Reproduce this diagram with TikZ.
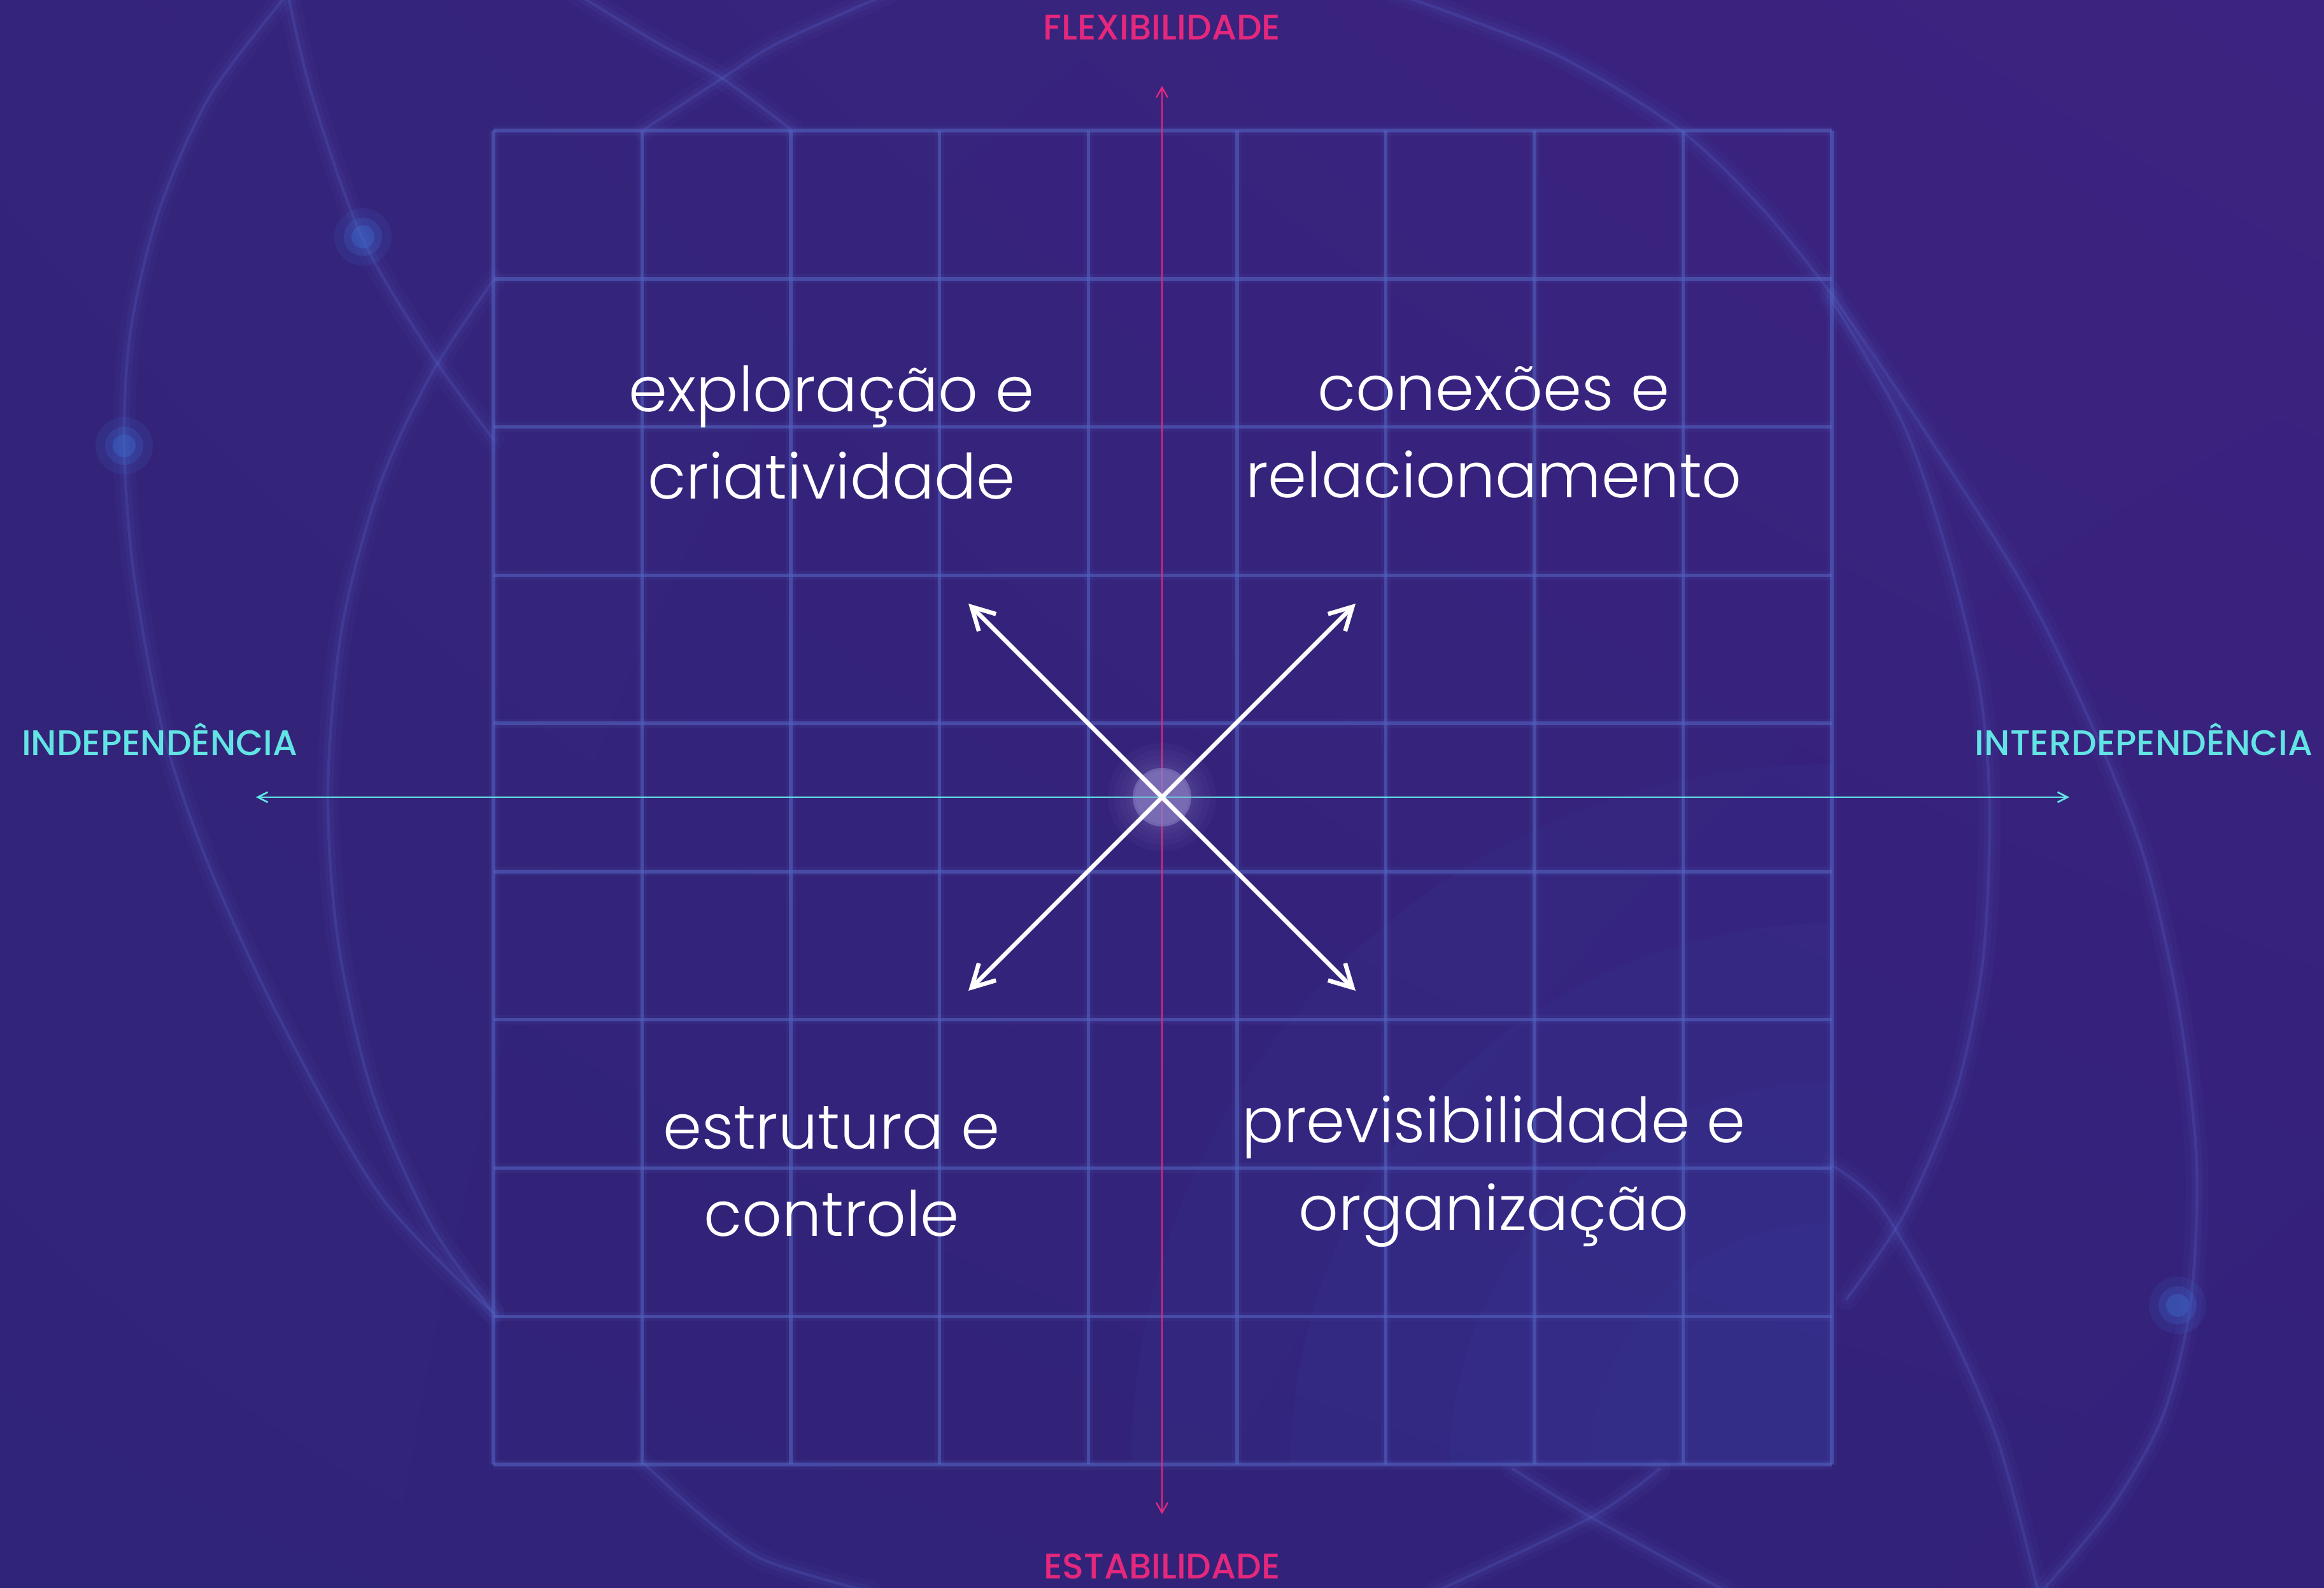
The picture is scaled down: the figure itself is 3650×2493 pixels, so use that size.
\documentclass[tikz,border=0pt]{standalone}
\usepackage{fontspec}
\setmainfont{Poppins}
\newfontfamily\popmed{Poppins Medium}
\newfontfamily\poplight{Poppins Light}
\usetikzlibrary{arrows.meta,shadings}
\definecolor{bgUL}{HTML}{34247A}
\definecolor{bgUR}{HTML}{3C2381}
\definecolor{bgLL}{HTML}{302478}
\definecolor{bgLR}{HTML}{33217A}
\definecolor{gridc}{HTML}{5262BE}
\definecolor{arcc}{HTML}{5F72D6}
\definecolor{dotc}{HTML}{3F78DC}
\definecolor{tintc}{HTML}{3A55B8}
\definecolor{pinkc}{HTML}{E5287C}
\definecolor{cyanc}{HTML}{62E4E4}
\definecolor{glowc}{HTML}{8B80C4}
\tikzset{
  gridline/.style={draw=gridc, line width=1.1pt, opacity=0.6},
  gridhalo/.style={draw=gridc, line width=3pt, opacity=0.1},
  haloA/.style={draw=arcc, line width=7pt, opacity=0.05, line cap=round},
  haloB/.style={draw=arcc, line width=3.5pt, opacity=0.08, line cap=round},
  arccore/.style={draw=arcc, line width=0.9pt, opacity=0.2, line cap=round},
  pinkaxis/.style={draw=pinkc, line width=0.45pt,
    arrows={Straight Barb[length=3.2pt,width=3.6pt]-Straight Barb[length=3.2pt,width=3.6pt]}},
  cyanaxis/.style={draw=cyanc, line width=0.55pt,
    arrows={Straight Barb[length=3.1pt,width=3.2pt]-Straight Barb[length=3.1pt,width=3.2pt]}},
  warrow/.style={draw=white, line width=1.35pt, arrows={-Straight Barb[length=7pt,width=7.6pt]}},
  axislabel/.style={font=\popmed\fontsize{11.2}{13}\selectfont, inner sep=0pt, text depth=0pt},
  quad/.style={text=white, font=\poplight\fontsize{19.6}{27.5}\selectfont, align=center, inner sep=0pt},
}
\newcommand\glowpath[1]{\draw[haloA] #1; \draw[haloB] #1; \draw[arccore] #1;}
\newcommand\glowdot[1]{%
  \fill[dotc, opacity=0.12] #1 circle[radius=45];
  \fill[dotc, opacity=0.2] #1 circle[radius=30];
  \fill[dotc, opacity=0.3] #1 circle[radius=18];}
\begin{document}
\begin{tikzpicture}[x=0.2pt, y=-0.2pt]
\useasboundingbox (0,0) rectangle (3650,2493);
% background
\shade[upper left=bgUL, upper right=bgUR, lower left=bgLL, lower right=bgLR] (0,0) rectangle (3650,2493);

% decorative arcs
\glowpath{plot[smooth] coordinates {(452,-10) (330,150) (250,330) (205,520) (195,700) (210,900) (255,1145) (325,1352) (434,1590) (596,1876) (775,2062)}}
\glowpath{plot[smooth] coordinates {(775,440) (677,588) (596,763) (537,986) (515,1240) (531,1479) (585,1717) (677,1924) (775,2062)}}
\glowpath{plot[smooth] coordinates {(452,-10) (490,150) (569,374) (677,556) (775,690)}}
\glowpath{plot[smooth] coordinates {(905,-10) (1032,67) (1134,123) (1242,203)}}
\glowpath{plot[smooth] coordinates {(1395,-10) (1223,67) (1134,123) (1012,203)}}
\glowpath{plot[smooth] coordinates {(2193,-10) (2438,83) (2637,203) (2770,330) (2876,461)}}
\glowpath{plot[smooth] coordinates {(2876,461) (3017,668) (3179,922) (3288,1145) (3369,1351) (3423,1590) (3450,1828) (3440,2051) (3396,2226) (3315,2369) (3206,2500)}}
\glowpath{plot[smooth] coordinates {(2876,470) (2990,668) (3060,874) (3109,1081) (3125,1272) (3114,1510) (3071,1717) (2990,1908) (2900,2040)}}
\glowpath{plot[smooth] coordinates {(2877,1830) (2950,1890) (3044,2051) (3136,2258) (3201,2500)}}
\glowpath{plot[smooth] coordinates {(1013,2300) (1105,2383) (1200,2450) (1366,2500)}}
\glowpath{plot[smooth] coordinates {(2376,2307) (2499,2383) (2713,2500)}}
\glowpath{plot[smooth] coordinates {(2606,2307) (2499,2383) (2254,2500)}}
\glowdot{(570,372)}
\glowdot{(195,700)}
\glowdot{(3420,2050)}

% bottom-right tint of the grid
\begin{scope}
  \clip (775,205) rectangle (2877,2300);
  \foreach \r in {1100,850,600,380}
    \fill[tintc, opacity=0.07] (2877,2300) circle[radius=\r];
\end{scope}

% grid
\foreach \i in {0,...,9} {
  \draw[gridhalo] ({775+233.56*\i},205) -- ({775+233.56*\i},2300);
  \draw[gridhalo] (775,{205+232.78*\i}) -- (2877,{205+232.78*\i});
}
\foreach \i in {0,...,9} {
  \draw[gridline] ({775+233.56*\i},205) -- ({775+233.56*\i},2300);
  \draw[gridline] (775,{205+232.78*\i}) -- (2877,{205+232.78*\i});
}

% axes
\coordinate (C) at (1825,1252);
\coordinate (axtop) at (1825,135);
\coordinate (axbot) at (1825,2378);
\coordinate (axlft) at (402,1252);
\coordinate (axrgt) at (3250,1252);
\draw[pinkaxis] (axbot) -- (axtop);
\draw[cyanaxis] (axlft) -- (axrgt);

% center glow
\foreach \r in {85,75,66,58,52}
  \fill[glowc, opacity=0.06] (C) circle[radius=\r];
\fill[glowc, opacity=0.6] (C) circle[radius=46];
\fill[glowc, opacity=0.3] (C) circle[radius=42];
\draw[cyanc, line width=0.55pt, opacity=0.6] (1780,1252) -- (1870,1252);

% diagonal arrows
\coordinate (dUL) at (1521,948);
\coordinate (dUR) at (2129,948);
\coordinate (dLL) at (1521,1556);
\coordinate (dLR) at (2129,1556);
\draw[warrow] (C) -- (dUL);
\draw[warrow] (C) -- (dUR);
\draw[warrow] (C) -- (dLL);
\draw[warrow] (C) -- (dLR);

% axis labels
\node[axislabel, text=pinkc, anchor=base] (flex) at (1825,62) {FLEXIBILIDADE};
\node[axislabel, text=pinkc, anchor=base] (estab) at (1825,2479) {ESTABILIDADE};
\node[axislabel, text=cyanc, anchor=base west] (indep) at (33,1186) {INDEPENDÊNCIA};
\node[axislabel, text=cyanc, anchor=base east] (inter) at (3633,1186) {INTERDEPENDÊNCIA};

% quadrant texts
\node[quad] (qTL) at (1306,679) {exploração e\\criatividade};
\node[quad] (qTR) at (2346,679) {conexões e\\relacionamento};
\node[quad] (qBL) at (1306,1840) {estrutura e\\controle};
\node[quad] (qBR) at (2346,1840) {previsibilidade e\\organização};
\end{tikzpicture}
\end{document}
